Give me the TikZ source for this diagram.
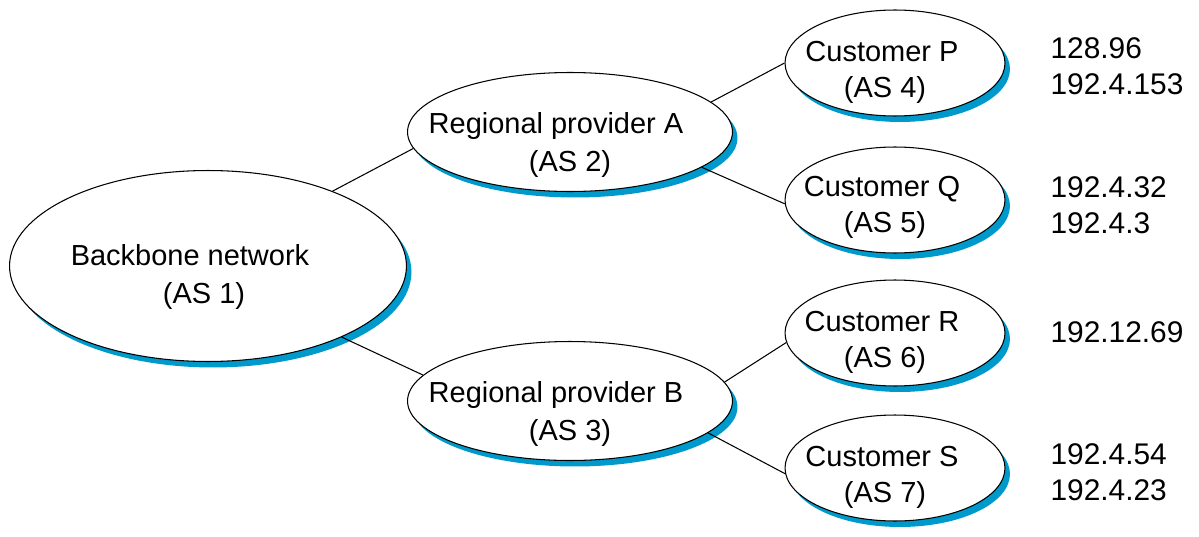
\documentclass[tikz,border=0pt]{standalone}
\usepackage{fontspec}
\setmainfont{Liberation Sans}
\usetikzlibrary{shapes.geometric,shadows}
\definecolor{asblue}{RGB}{0,153,204}

\begin{document}
\begin{tikzpicture}[x=0.02cm, y=-0.02cm, line width=0.6pt,
    as/.style={ellipse, draw, fill=white, inner sep=0pt,
        drop shadow={shadow xshift=0.1cm, shadow yshift=-0.12cm, fill=asblue, opacity=1}},
    big/.style={as, minimum width=7.94cm, minimum height=3.82cm},
    mid/.style={as, minimum width=6.5cm, minimum height=2.38cm},
    small/.style={as, minimum width=4.4cm, minimum height=2.12cm},
    astext/.style={align=center, anchor=base, font=\fontsize{16.5}{21.5}\selectfont},
    custtext/.style={astext, font=\fontsize{16.5}{20}\selectfont},
    addr/.style={align=left, anchor=base west, inner sep=0pt, font=\fontsize{17}{20}\selectfont}]
    \useasboundingbox (0,0) rectangle (1199,537);

    % autonomous systems
    \node[big] (bb) at (208,266) {};
    \node[mid] (rA) at (570,132) {};
    \node[mid] (rB) at (570,401) {};
    \node[small] (cP) at (895,63) {};
    \node[small] (cQ) at (895,200) {};
    \node[small] (cR) at (895,333) {};
    \node[small] (cS) at (895,468) {};

    % base anchor sits on the second line
    \node[astext] (bb-t) at (204,303) {Backbone network\kern0.56cm\\(AS 1)};
    \node[astext] (rA-t) at (570,171) {Regional provider A\kern0.56cm\\(AS 2)};
    \node[astext] (rB-t) at (570,440) {Regional provider B\kern0.56cm\\(AS 3)};
    \node[custtext] (cP-t) at (885,97) {Customer P\kern0.12cm\\(AS 4)};
    \node[custtext] (cQ-t) at (885,232) {Customer Q\kern0.12cm\\(AS 5)};
    \node[custtext] (cR-t) at (885,367) {Customer R\kern0.12cm\\(AS 6)};
    \node[custtext] (cS-t) at (885,502) {Customer S\kern0.12cm\\(AS 7)};

    % address prefixes
    \node[addr] (aP) at (1050,94) {128.96\\192.4.153};
    \node[addr] (aQ) at (1050,233) {192.4.32\\192.4.3};
    \node[addr] (aR) at (1050,342) {192.12.69};
    \node[addr] (aS) at (1050,500) {192.4.54\\192.4.23};

    % links
    \draw (bb.31) -- (rA.186);
    \draw (bb.-28) -- (rB.170);
    \draw (rA.12) -- (cP.180);
    \draw (rA.-15) -- (cQ.182);
    \draw (rB.7) -- (cR.185);
    \draw (rB.-13) -- (cS.183);
\end{tikzpicture}
\end{document}
